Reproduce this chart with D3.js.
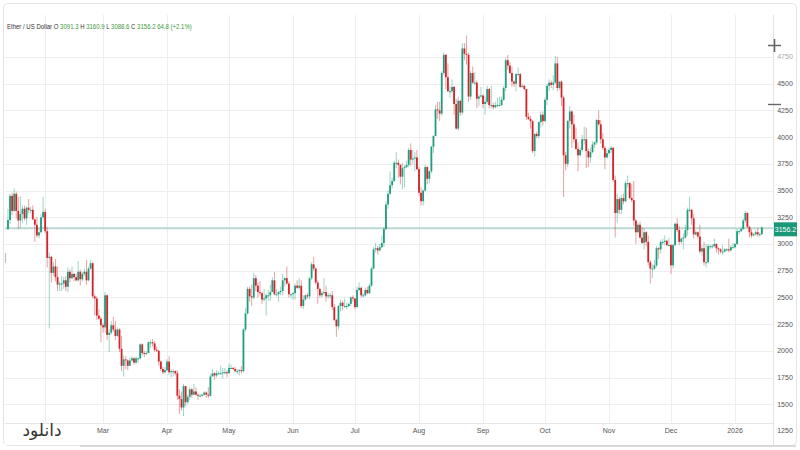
<!DOCTYPE html>
<html><head><meta charset="utf-8">
<script src="https://cdn.jsdelivr.net/npm/d3@7"></script>
<style>body{margin:0;background:#fff}svg{display:block}</style>
</head><body><svg id="c" width="800" height="450"></svg>
<script>
// Daily candles, first candle date:
const startDate = "2025-01-14";
const opens = [
3140,3225,3450,3310,3470,3310,3220,3280,3330,3240,3340,3320,3320,3230,3180,3080,3110,3250,
3300,3120,2870,2880,2730,2790,2690,2620,2630,2630,2660,2600,2740,2680,2720,2690,2660,2740,2670,2720,2740,2660,2770,2820,2510,2490,2330,2300,
2240,2220,2520,2150,2170,2240,2200,2140,2200,2020,1860,1920,1910,1860,1910,1930,1890,1930,1930,2060,1980,1970,1980,2080,2080,2070,2010,2000,1900,1830,1800,
1820,1900,1800,1810,1810,1790,1580,1550,1470,1670,1520,1570,1640,1590,1620,1590,1580,1580,1590,1610,1590,1580,1760,1790,1770,1790,1790,1790,1800,1800,
1790,1840,1840,1830,1810,1810,1820,1810,2200,2350,2580,2510,2500,2680,2610,2550,2540,2480,2490,2520,2520,2550,2660,2530,2530,2550,2560,2660,2680,2630,2530,
2530,2540,2610,2590,2610,2420,2480,2520,2510,2680,2810,2770,2640,2580,2520,2540,2550,2510,2520,2520,2410,2290,2230,2420,2450,2420,2420,2420,2440,2500,
2490,2410,2570,2590,2520,2520,2570,2540,2610,2770,2950,2960,2940,2970,3010,3140,3370,3470,3550,3590,3760,3760,3740,3630,3710,3720,3740,3880,3790,3800,3810,
3700,3480,3400,3500,3720,3610,3680,3910,4010,4260,4250,4220,4600,4770,4560,4430,4430,4470,4310,4080,4340,4230,4830,4780,4770,4380,4600,4510,4510,4360,4380,
4390,4310,4330,4450,4300,4300,4280,4300,4300,4300,4350,4460,4720,4670,4600,4520,4500,4590,4590,4470,4480,4450,4190,4170,4150,3870,4030,4010,4140,4210,
4150,4350,4480,4510,4490,4510,4690,4460,4520,4370,3830,3750,4150,4240,4120,3980,3890,3830,3880,3980,3980,3870,3810,3860,3930,3950,4160,4120,3980,3900,3810,
3850,3880,3900,3600,3290,3420,3320,3430,3400,3570,3570,3430,3410,3220,3110,3180,3060,3010,3110,3020,2830,2770,2770,2800,2960,2950,3020,3020,3030,2990,
2990,2800,2990,3190,3130,3020,3050,3060,3130,3320,3320,3240,3090,3110,3070,2930,2960,2830,2830,2980,2980,2980,3000,2960,2950,2930,2930,2950,2950,2940,2970,
2970,3000,3120,3120,3140,3220,3290,3160,3110,3080,3090,3110,3090,3091.3];
const highs = [
3330,3470,3480,3520,3490,3440,3450,3360,3360,3350,3420,3350,3360,3240,3250,3150,3280,3440,
3330,3160,2920,2890,2830,2860,2790,2650,2700,2690,2700,2780,2760,2790,2730,2720,2840,2760,2740,2770,2850,2790,2850,2830,2530,2510,2390,2320,
2260,2550,2530,2200,2280,2320,2280,2220,2210,2140,1960,1950,1920,1940,1950,1940,1950,1940,2070,2070,2000,2000,2090,2100,2110,2090,2040,2010,1910,1850,1850,
1920,1950,1830,1830,1820,1820,1640,1620,1690,1670,1590,1660,1650,1690,1660,1600,1600,1600,1620,1620,1660,1780,1830,1800,1820,1810,1860,1840,1840,1820,
1880,1870,1850,1850,1830,1830,1860,2210,2400,2600,2600,2620,2730,2710,2640,2650,2550,2580,2540,2570,2620,2690,2740,2580,2560,2600,2720,2690,2790,2650,2540,
2550,2630,2660,2680,2660,2520,2530,2540,2690,2830,2880,2780,2660,2590,2560,2680,2610,2540,2540,2560,2440,2300,2430,2480,2470,2490,2450,2450,2510,2520,
2490,2600,2640,2600,2540,2590,2600,2630,2790,2970,3010,2980,3000,3080,3160,3400,3500,3680,3620,3780,3860,3790,3750,3760,3740,3780,3900,3940,3880,3860,3880,
3720,3530,3510,3740,3730,3690,3920,4020,4300,4330,4330,4620,4790,4780,4690,4480,4540,4480,4360,4380,4350,4880,4880,4950,4790,4620,4660,4610,4530,4400,4470,
4400,4380,4480,4460,4480,4320,4330,4370,4380,4380,4480,4740,4770,4700,4660,4530,4600,4650,4600,4500,4490,4450,4230,4200,4160,4040,4050,4150,4240,4240,
4370,4500,4540,4530,4580,4760,4750,4520,4530,4390,3860,4160,4290,4250,4210,4090,3950,3910,4020,4100,4090,3890,3900,3960,3960,4170,4250,4160,4040,3920,3890,
3900,3920,3910,3640,3470,3440,3460,3470,3590,3640,3580,3560,3590,3240,3200,3210,3160,3150,3120,3080,2850,2810,2850,2980,2970,3040,3050,3080,3040,3060,
3000,3000,3200,3240,3170,3060,3100,3180,3340,3440,3330,3280,3130,3120,3180,2990,3020,3000,3000,2990,3000,3050,3010,2970,2960,2990,2960,2960,3050,2990,3010,
3010,3140,3130,3160,3240,3310,3300,3170,3140,3100,3130,3150,3110,3160.9];
const lows = [
3130,3190,3270,3300,3240,3140,3150,3200,3220,3180,3290,3290,3230,3020,3060,3050,3100,3230,
3100,2780,2210,2640,2700,2650,2560,2560,2560,2580,2560,2550,2640,2670,2650,2650,2650,2610,2650,2700,2620,2650,2760,2490,2330,2290,2290,2080,
2170,2170,2100,1990,2150,2180,2100,2130,1990,1810,1760,1830,1820,1860,1900,1870,1880,1890,1920,1960,1940,1960,1980,2030,2040,1990,1990,1860,1810,1780,1780,
1810,1780,1750,1760,1770,1540,1410,1440,1390,1480,1500,1540,1560,1590,1580,1540,1570,1570,1580,1560,1560,1570,1760,1730,1750,1780,1780,1740,1780,1750,
1790,1830,1820,1800,1780,1770,1790,1800,2180,2340,2460,2420,2480,2560,2500,2520,2440,2460,2330,2470,2470,2550,2520,2510,2460,2520,2520,2600,2620,2500,2490,
2480,2480,2580,2570,2400,2390,2470,2490,2480,2660,2750,2620,2440,2500,2500,2530,2460,2490,2490,2380,2280,2130,2200,2370,2380,2400,2390,2410,2420,2460,
2390,2400,2560,2500,2500,2510,2530,2530,2600,2760,2920,2900,2930,2960,2970,3130,3330,3460,3520,3580,3710,3620,3560,3510,3530,3710,3720,3730,3750,3680,3690,
3450,3360,3360,3490,3560,3570,3660,3850,4010,4170,4150,4200,4580,4450,4420,4370,4410,4210,4070,4060,4200,4210,4720,4680,4330,4350,4500,4490,4270,4290,4370,
4270,4210,4310,4270,4270,4260,4270,4280,4290,4290,4340,4430,4630,4590,4470,4470,4430,4580,4460,4460,4440,4160,4160,4080,3850,3820,3990,3990,4090,4110,
4140,4300,4430,4460,4440,4500,4430,4440,4290,3440,3690,3720,4080,3900,3950,3880,3680,3820,3860,3930,3710,3720,3760,3850,3900,3930,4110,3940,3880,3700,3800,
3840,3850,3580,3060,3200,3280,3280,3370,3390,3530,3420,3390,3170,3000,3100,3050,3000,2950,2980,2800,2630,2680,2760,2780,2860,2910,2990,2990,2980,2980,
2720,2770,2980,3110,2990,3000,2950,3050,3080,3300,3180,3050,3080,3050,2910,2890,2800,2780,2820,2950,2960,2970,2920,2900,2910,2900,2920,2930,2920,2930,2960,
2960,2990,3090,3110,3130,3200,3150,3060,3060,3070,3080,3070,3070,3088.6];
const closes = [
3225,3450,3310,3470,3310,3220,3280,3330,3240,3340,3320,3320,3230,3180,3080,3110,3250,3300,
3120,2870,2880,2730,2790,2690,2620,2630,2630,2660,2600,2740,2680,2720,2690,2660,2740,2670,2720,2740,2660,2770,2820,2510,2490,2330,2300,2240,
2220,2520,2150,2170,2240,2200,2140,2200,2020,1860,1920,1910,1860,1910,1930,1890,1930,1930,2060,1980,1970,1980,2080,2080,2070,2010,2000,1900,1830,1800,1820,
1900,1800,1810,1810,1790,1580,1550,1470,1670,1520,1570,1640,1590,1620,1590,1580,1580,1590,1610,1590,1580,1760,1790,1770,1790,1790,1790,1800,1800,1790,
1840,1840,1830,1810,1810,1820,1810,2200,2350,2580,2510,2500,2680,2610,2550,2540,2480,2490,2520,2520,2550,2660,2530,2530,2550,2560,2660,2680,2630,2530,2530,
2540,2610,2590,2610,2420,2480,2520,2510,2680,2810,2770,2640,2580,2520,2540,2550,2510,2520,2520,2410,2290,2230,2420,2450,2420,2420,2420,2440,2500,2490,
2410,2570,2590,2520,2520,2570,2540,2610,2770,2950,2960,2940,2970,3010,3140,3370,3470,3550,3590,3760,3760,3740,3630,3710,3720,3740,3880,3790,3800,3810,3700,
3480,3400,3500,3720,3610,3680,3910,4010,4260,4250,4220,4600,4770,4560,4430,4430,4470,4310,4080,4340,4230,4830,4780,4770,4380,4600,4510,4510,4360,4380,4390,
4310,4330,4450,4300,4300,4280,4300,4300,4300,4350,4460,4720,4670,4600,4520,4500,4590,4590,4470,4480,4450,4190,4170,4150,3870,4030,4010,4140,4210,4150,
4350,4480,4510,4490,4510,4690,4460,4520,4370,3830,3750,4150,4240,4120,3980,3890,3830,3880,3980,3980,3870,3810,3860,3930,3950,4160,4120,3980,3900,3810,3850,
3880,3900,3600,3290,3420,3320,3430,3400,3570,3570,3430,3410,3220,3110,3180,3060,3010,3110,3020,2830,2770,2770,2800,2960,2950,3020,3020,3030,2990,2990,
2800,2990,3190,3130,3020,3050,3060,3130,3320,3320,3240,3090,3110,3070,2930,2960,2830,2830,2980,2980,2980,3000,2960,2950,2930,2930,2950,2950,2940,2970,2970,
3000,3120,3120,3140,3220,3290,3160,3110,3080,3090,3110,3090,3091.4,3156.2];

const priceTicks = [1250,1500,1750,2000,2250,2500,2750,3000,3250,3500,3750,4000,4250,4500,4750];
const monthTicks = ["2025-02-01","2025-03-01","2025-04-01","2025-05-01","2025-06-01","2025-07-01","2025-08-01","2025-09-01","2025-10-01","2025-11-01","2025-12-01","2026-01-01"];
const monthLabels = ["Feb","Mar","Apr","May","Jun","Jul","Aug","Sep","Oct","Nov","Dec","2026"];
const lastPrice = 3156.2;
const titleText = "Ether / US Dollar O 3091.3 H 3160.9 L 3088.6 C 3156.2 64.8 (+2.1%)";
const titleParts = [["Ether / US Dollar ","#333"],["O ","#333"],["3091.3 ","#3a9a3a"],["H ","#333"],["3160.9 ","#3a9a3a"],["L ","#333"],["3088.6 ","#3a9a3a"],["C ","#333"],["3156.2 ","#3a9a3a"],[" 64.8 (+2.1%)","#3a9a3a"]];

const svg = d3.select("#c");
const plot = {l:5, r:773, t:15, b:423};
const UP = "#1f9d7d", DOWN = "#d2232a";

const parse = d3.utcParse("%Y-%m-%d");
const t0 = parse(startDate);
const n = Math.min(opens.length, highs.length, lows.length, closes.length);
const data = d3.range(n).map(i => ({d: d3.utcDay.offset(t0, i), o: opens[i], h: highs[i], l: lows[i], c: closes[i]}));

const x = d3.scaleUtc().domain([parse("2025-03-01"), parse("2026-01-01")]).range([103, 735]);
const y = d3.scaleLinear().domain([1250, 4750]).range([431, 57]);

// frame
svg.append("rect").attr("x",3.5).attr("y",3.5).attr("width",793).attr("height",442).attr("rx",5)
  .attr("fill","#fff").attr("stroke","#e3e3e3");
svg.append("line").attr("x1",80).attr("x2",796).attr("y1",446).attr("y2",446).attr("stroke","#d0d0d0").attr("stroke-width",1.5);

// grid
const g = svg.append("g");
g.selectAll(".hg").data(priceTicks.filter(v => y(v) > plot.t && y(v) < plot.b)).join("line")
  .attr("x1",plot.l).attr("x2",plot.r).attr("y1",v=>Math.round(y(v))+0.5).attr("y2",v=>Math.round(y(v))+0.5)
  .attr("stroke","#eceef0");
g.selectAll(".vg").data(monthTicks).join("line")
  .attr("x1",d=>Math.round(x(parse(d)))+0.5).attr("x2",d=>Math.round(x(parse(d)))+0.5)
  .attr("y1",plot.t).attr("y2",plot.b).attr("stroke","#eceef0");
svg.append("line").attr("x1",plot.r+0.5).attr("x2",plot.r+0.5).attr("y1",plot.t).attr("y2",445).attr("stroke","#e2e2e2");
svg.append("line").attr("x1",plot.l).attr("x2",plot.r).attr("y1",plot.b+0.5).attr("y2",plot.b+0.5).attr("stroke","#e6e6e6");

// last price line
svg.append("line").attr("x1",plot.l).attr("x2",plot.r).attr("y1",y(lastPrice)+1).attr("y2",y(lastPrice)+1)
  .attr("stroke","#b9d9d2").attr("stroke-width",2);

// candles
const bw = 1.8;
const cg = svg.append("g");
cg.selectAll(".w").data(data).join("line")
  .attr("x1",d=>x(d.d)).attr("x2",d=>x(d.d))
  .attr("y1",d=>y(Math.max(d.h,d.o,d.c))).attr("y2",d=>y(Math.min(d.l,d.o,d.c)))
  .attr("stroke",d=>d.c>=d.o?UP:DOWN).attr("stroke-opacity",0.55).attr("stroke-width",0.8);
cg.selectAll(".b").data(data).join("rect")
  .attr("x",d=>x(d.d)-bw/2).attr("width",bw)
  .attr("y",d=>y(Math.max(d.o,d.c)))
  .attr("height",d=>Math.max(1,Math.abs(y(d.o)-y(d.c))))
  .attr("fill",d=>d.c>=d.o?UP:DOWN);

// y axis labels
svg.append("g").selectAll("text").data(priceTicks).join("text")
  .attr("x",785).attr("y",v=>y(v)).attr("dy","0.35em").attr("text-anchor","middle")
  .attr("font-family","Liberation Sans, Arial, sans-serif").attr("font-size",7)
  .attr("fill",v=>v===4750?"#aaa":"#555").text(v=>v);

// x labels
svg.append("g").selectAll("text").data(monthTicks.slice(1)).join("text")
  .attr("x",d=>x(parse(d))).attr("y",431).attr("dy","0.35em").attr("text-anchor","middle")
  .attr("font-family","Liberation Sans, Arial, sans-serif").attr("font-size",7)
  .attr("fill","#555").text((d,i)=>monthLabels[i+1]);

// price box
const py = y(lastPrice)+2;
svg.append("rect").attr("x",774).attr("y",py-7).attr("width",23).attr("height",14).attr("fill","#1a9878");
svg.append("text").attr("x",785.5).attr("y",py).attr("dy","0.35em").attr("text-anchor","middle")
  .attr("font-family","Liberation Sans, Arial, sans-serif").attr("font-size",7).attr("fill","#fff").text(lastPrice.toFixed(1));

// zoom icons
svg.append("path").attr("d","M768,45.5H781M774.5,39V52").attr("stroke","#666").attr("stroke-width",1.6).attr("fill","none");
svg.append("path").attr("d","M768,104.5H781").attr("stroke","#666").attr("stroke-width",1.4).attr("fill","none");

// left scroll mark
svg.append("line").attr("x1",5.5).attr("x2",5.5).attr("y1",253).attr("y2",263).attr("stroke","#bbb").attr("stroke-width",1);

// title (horizontally condensed like the reference)
const tg = svg.append("g").attr("transform","translate(7,29) scale(0.86,1)");
const tt = tg.append("text").attr("x",0).attr("y",0).attr("font-family","Liberation Sans, Arial, sans-serif")
  .attr("font-size",7);
titleParts.forEach(p => tt.append("tspan").attr("fill",p[1]).text(p[0]));

// watermark
svg.append("rect").attr("x",5).attr("y",424).attr("width",75).attr("height",21).attr("fill","#fff");
svg.append("text").attr("x",42).attr("y",436).attr("text-anchor","middle").attr("direction","rtl")
  .attr("font-family","DejaVu Sans, sans-serif").attr("font-size",17).attr("fill","#333").text("دانلود");
</script></body></html>
